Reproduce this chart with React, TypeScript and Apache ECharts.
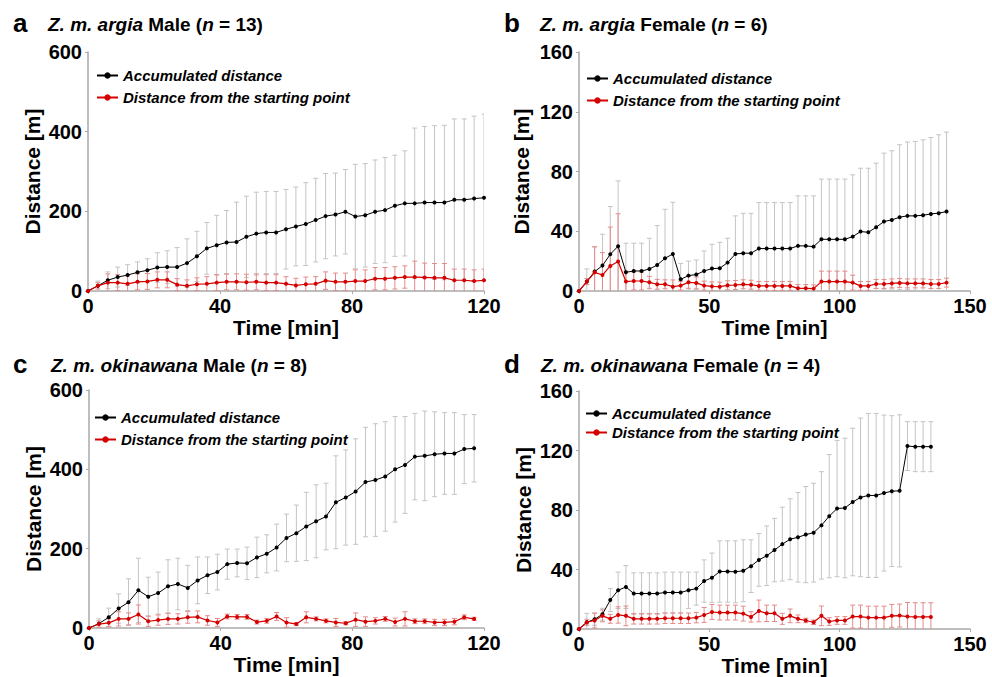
import React, { useEffect, useRef } from "react";
import * as echarts from "echarts";

// ---------- data ----------
const timeA = [0,3,6,9,12,15,18,21,24,27,30,33,36,39,42,45,48,51,54,57,60,63,66,69,72,75,78,81,84,87,90,93,96,99,102,105,108,111,114,117,120];
const accA = [0,13,27,35,40,47,52,59,60,60,70,87,107,115,122,123,136,144,147,147,155,162,168,178,188,192,199,187,190,199,203,214,220,220,222,222,222,229,229,232,234];
const accSdA = [0,12,21,25,26,26,29,37,41,49,61,63,65,75,80,100,102,104,103,103,100,99,104,105,107,104,106,131,130,130,132,127,132,189,191,193,194,203,203,207,210];
const distA = [0,13,21,21,18,23,24,28,28,16,13,17,18,21,23,23,22,23,21,21,18,14,17,18,26,23,23,25,25,31,31,33,35,35,34,33,33,27,27,25,27];
const distSdA = [0,8,22,20,20,20,20,20,20,15,15,16,18,20,20,20,20,20,20,20,18,18,18,18,22,22,22,28,28,28,28,28,28,40,36,36,36,28,28,28,28];

const timeB = [0,3,6,9,12,15,18,21,24,27,30,33,36,39,42,45,48,51,54,57,60,63,66,69,72,75,78,81,84,87,90,93,96,99,102,105,108,111,114,117,120,123,126,129,132,135,138,141];
const accB = [0,6.3,13,17,24.6,30,12.5,13.4,13.4,14.7,17.4,21.9,24.8,7.8,10.3,11,13.4,15,15.2,19,24.8,25.3,25.3,28.4,28.4,28.4,28.4,28.4,30.2,30.2,29.7,34.6,34.6,34.6,34.6,36.4,39.8,39.3,42.7,46.5,47.6,49.4,50.3,50.3,50.7,51.6,52.1,53.2];
const accSdB = [0,8.5,16.7,21,32,43.7,19.5,18.6,18.6,20.6,26.4,32.8,34.6,10.7,9.7,9.8,13.4,16.3,17.4,16.3,25.5,26.7,26.7,30.8,30.8,30.8,30.8,30.8,33.5,33.5,34,40.3,40.3,40.3,40.3,41.4,42.4,42.9,42.9,45.8,46.3,48.5,49.4,49.8,50.5,51.2,52.5,53.2];
const distB = [0,6.3,12.5,10.7,16.8,19.7,6.3,6.7,6.7,5.8,4.5,4.5,2.9,3.6,5.8,5.4,3.6,3.1,2.9,3.8,4,4.5,4.2,3.4,3.4,3.4,3.4,3.4,1.8,1.8,1.6,6.3,6.3,6.3,6.3,5.6,3.4,3.4,4.7,4.7,5.1,5.4,5.1,5.1,5.1,4.7,4.7,5.6];
const distSdB = [0,2,17,15,26,32,7,6,6,4,3.3,3,4.5,3,4,4,3,3,3,3,3,3,3,3,3,3,3,3,2.5,2.5,2.5,7,7,7,7,5,3,3,3,3,3,3,3,3,3,3,3,3];

const timeC = [0,3,6,9,12,15,18,21,24,27,30,33,36,39,42,45,48,51,54,57,60,63,66,69,72,75,78,81,84,87,90,93,96,99,102,105,108,111,114,117];
const accC = [0,11,27,49,65,95,79,88,105,111,101,120,133,141,161,164,163,178,187,203,227,239,256,269,281,317,329,344,368,373,382,400,411,432,434,438,440,440,451,453];
const accSdC = [0,12,23,37,59,81,49,53,67,65,57,59,46,45,38,35,41,51,48,59,60,71,86,92,84,117,120,133,138,142,138,133,122,109,113,107,103,103,87,85];
const distC = [0,10,13,23,23,34,17,20,23,23,27,28,19,14,29,28,28,15,18,29,14,10,27,23,18,14,12,21,16,18,23,15,23,17,17,14,14,16,27,23];
const distSdC = [0,8,10,18,15,24,13,13,14,13,15,15,12,10,6,6,6,5,6,10,12,4,14,5,5,10,4,17,12,8,6,10,18,6,6,8,8,8,6,4];

const timeD = [0,3,6,9,12,15,18,21,24,27,30,33,36,39,42,45,48,51,54,57,60,63,66,69,72,75,78,81,84,87,90,93,96,99,102,105,108,111,114,117,120,123,126,129,132,135];
const accD = [0,4.6,6.6,10,19.5,26.1,28.3,23.9,23.9,23.9,23.9,24.6,24.6,24.6,26.1,27.2,32.3,34.5,38.7,38.7,38.5,39.2,42.3,46.5,49.3,53.1,57.1,60.4,61.7,63.5,64.8,69.7,75.9,81,81.4,85.4,88.5,89.8,89.8,91.4,92.7,92.9,123,122.6,122.6,122.6];
const accSdD = [0,6,4,4,7.7,12.2,14.4,13.9,13.9,13.9,13.9,13.7,13.7,13.7,12.2,11.1,14.2,16.6,20.6,20.6,20.8,20.8,17.7,17.7,20,21.3,24.8,27.2,30.1,32.3,33.2,36.1,41.4,45.8,46.9,49.6,53.3,55.1,55.1,52.4,50.7,51.1,16.4,16.8,16.8,16.8];
const distD = [0,4.6,5.8,8.9,6.9,9.5,8.9,6.9,6.9,6.9,6.9,7.3,7.3,7.3,7.3,7.7,9.5,11.5,11.1,11.1,11.1,10.4,8.2,12.2,10.6,10.6,6.9,8.9,6.9,5.8,4.6,8.9,5.1,5.8,5.8,8.4,8.4,7.7,7.7,7.7,8.9,9.1,8.4,8.2,8.2,8.2];
const distSdD = [0,2,5,4,3,5.5,6.6,3.5,3.5,3.5,3.5,3.5,3.5,3.5,3.5,3.5,5,5,5,5,5,5,3.5,7.3,5.5,5.5,3.7,4.6,2.6,1.5,1.5,6.6,2.6,2.6,2.6,7.7,7.7,7.7,7.7,7.7,7.7,7.7,9.5,9.5,9.5,9.5];

const xTicksAC = [0, 40, 80, 120];
const yTicksAC = [0, 200, 400, 600];
const xTicksBD = [0, 50, 100, 150];
const yTicksBD = [0, 40, 80, 120, 160];

const seriesNames = ["Accumulated distance", "Distance from the starting point"];
const panelLetters = ["a", "b", "c", "d"];
const panelSubspecies = ["Z. m. argia", "Z. m. argia", "Z. m. okinawana", "Z. m. okinawana"];
const panelSex = ["Male", "Female", "Male", "Female"];
const panelN = [13, 6, 8, 4];

// ---------- layout ----------
const FONT = '"Liberation Sans", Arial, Helvetica, sans-serif';
const BLACK = "#000000";
const RED = "#d40000";
const GREY_BAR = "#c4c4c4";
const RED_BAR = "#e58a8a";
const AXIS = "#a9a9a9";

const panels = [
  { time: timeA, acc: accA, accSd: accSdA, dist: distA, distSd: distSdA, xTicks: xTicksAC, yTicks: yTicksAC,
    grid: { left: 88, top: 52, width: 396, height: 239 }, legend: { left: 96, top: 68, gap: 7 }, yGap: 45,
    letterPos: [13, 22.5], titlePos: [48, 24.5] },
  { time: timeB, acc: accB, accSd: accSdB, dist: distB, distSd: distSdB, xTicks: xTicksBD, yTicks: yTicksBD,
    grid: { left: 579, top: 52, width: 391, height: 239 }, legend: { left: 586, top: 71, gap: 7 }, yGap: 47,
    letterPos: [504, 22.5], titlePos: [540, 24.5] },
  { time: timeC, acc: accC, accSd: accSdC, dist: distC, distSd: distSdC, xTicks: xTicksAC, yTicks: yTicksAC,
    grid: { left: 89, top: 390, width: 395, height: 238 }, legend: { left: 94, top: 410, gap: 7 }, yGap: 45,
    letterPos: [13, 363.5], titlePos: [51, 365.5] },
  { time: timeD, acc: accD, accSd: accSdD, dist: distD, distSd: distSdD, xTicks: xTicksBD, yTicks: yTicksBD,
    grid: { left: 579, top: 391, width: 391, height: 241 }, legend: { left: 585, top: 406, gap: 4 }, yGap: 45,
    letterPos: [504, 363.5], titlePos: [541, 365.5] },
];

function errorSeries(name: string, time: number[], mean: number[], sd: number[], idx: number, color: string, z: number) {
  return {
    type: "custom",
    name,
    xAxisIndex: idx,
    yAxisIndex: idx,
    z,
    clip: true,
    silent: true,
    data: time.map((t, i) => [t, mean[i], sd[i]]),
    encode: { x: 0, y: 1 },
    renderItem: (params: any, api: any) => {
      const x = api.value(0);
      const m = api.value(1);
      const s = api.value(2);
      if (!s) return null;
      const lo = Math.max(m - s, 0);
      const p1 = api.coord([x, m + s]);
      const p2 = api.coord([x, lo]);
      const hw = 2.5;
      const style = { stroke: color, lineWidth: 1 };
      const children: any[] = [
        { type: "line", shape: { x1: p1[0], y1: p1[1], x2: p2[0], y2: p2[1] }, style },
        { type: "line", shape: { x1: p1[0] - hw, y1: p1[1], x2: p1[0] + hw, y2: p1[1] }, style },
      ];
      if (m - s > 0) {
        children.push({ type: "line", shape: { x1: p2[0] - hw, y1: p2[1], x2: p2[0] + hw, y2: p2[1] }, style });
      }
      return { type: "group", children };
    },
  };
}

function buildOption() {
  const grids: any[] = [];
  const xAxes: any[] = [];
  const yAxes: any[] = [];
  const legends: any[] = [];
  const series: any[] = [];
  const graphics: any[] = [];

  panels.forEach((p, idx) => {
    grids.push({ ...p.grid, containLabel: false });
    const xInt = p.xTicks[1] - p.xTicks[0];
    const yInt = p.yTicks[1] - p.yTicks[0];
    xAxes.push({
      type: "value",
      gridIndex: idx,
      min: p.xTicks[0],
      max: p.xTicks[p.xTicks.length - 1],
      interval: xInt,
      name: "Time [min]",
      nameLocation: "middle",
      nameGap: 21,
      nameTextStyle: { fontFamily: FONT, fontSize: 21, fontWeight: "bold", color: "#000" },
      axisLine: { show: true, lineStyle: { color: AXIS, width: 1.5 } },
      axisTick: { show: true, length: 3, lineStyle: { color: AXIS } },
      axisLabel: { fontFamily: FONT, fontSize: 20, fontWeight: "bold", color: "#000", margin: 5 },
      splitLine: { show: false },
    });
    yAxes.push({
      type: "value",
      gridIndex: idx,
      min: p.yTicks[0],
      max: p.yTicks[p.yTicks.length - 1],
      interval: yInt,
      name: "Distance [m]",
      nameLocation: "middle",
      nameGap: p.yGap,
      nameTextStyle: { fontFamily: FONT, fontSize: 21, fontWeight: "bold", color: "#000" },
      axisLine: { show: true, lineStyle: { color: AXIS, width: 1.5 } },
      axisTick: { show: true, length: 3, lineStyle: { color: AXIS } },
      axisLabel: { fontFamily: FONT, fontSize: 20, fontWeight: "bold", color: "#000", margin: 6 },
      splitLine: { show: false },
    });
    legends.push({
      data: seriesNames,
      orient: "vertical",
      left: p.legend.left,
      top: p.legend.top,
      padding: 0,
      itemWidth: 21,
      itemHeight: 8,
      itemGap: p.legend.gap,
      selectedMode: false,
      textStyle: { fontFamily: FONT, fontSize: 15, fontWeight: "bold", fontStyle: "italic", color: "#000" },
    });
    series.push(errorSeries("sdAcc" + idx, p.time, p.acc, p.accSd, idx, GREY_BAR, 1));
    series.push(errorSeries("sdDist" + idx, p.time, p.dist, p.distSd, idx, RED_BAR, 2));
    series.push({
      type: "line",
      name: seriesNames[0],
      xAxisIndex: idx,
      yAxisIndex: idx,
      z: 3,
      data: p.time.map((t, i) => [t, p.acc[i]]),
      symbol: "circle",
      symbolSize: 4,
      lineStyle: { color: BLACK, width: 1 },
      itemStyle: { color: BLACK },
    });
    series.push({
      type: "line",
      name: seriesNames[1],
      xAxisIndex: idx,
      yAxisIndex: idx,
      z: 4,
      data: p.time.map((t, i) => [t, p.dist[i]]),
      symbol: "circle",
      symbolSize: 4,
      lineStyle: { color: RED, width: 1.2 },
      itemStyle: { color: RED },
    });
    graphics.push({
      type: "text",
      left: p.letterPos[0],
      top: p.letterPos[1] - 13,
      style: { text: panelLetters[idx], fontFamily: FONT, fontSize: 26, fontWeight: "bold", fill: "#000" },
    });
    graphics.push({
      type: "text",
      left: p.titlePos[0],
      top: p.titlePos[1] - 10,
      style: {
        text: `{i|${panelSubspecies[idx]}} {b|${panelSex[idx]} (}{i|n}{b| = ${panelN[idx]})}`,
        fontFamily: FONT,
        fontSize: 19,
        fontWeight: "bold",
        fill: "#000",
        rich: {
          i: { fontFamily: FONT, fontSize: 19, fontWeight: "bold", fontStyle: "italic", fill: "#000" },
          b: { fontFamily: FONT, fontSize: 19, fontWeight: "bold", fill: "#000" },
        },
      },
    });
  });

  return {
    animation: false,
    backgroundColor: "#ffffff",
    grid: grids,
    xAxis: xAxes,
    yAxis: yAxes,
    legend: legends,
    series,
    graphic: graphics,
  };
}

export default function App() {
  const ref = useRef<HTMLDivElement>(null);
  useEffect(() => {
    if (!ref.current) return;
    const chart = echarts.init(ref.current, undefined, { renderer: "svg" });
    chart.setOption(buildOption() as any);
    return () => chart.dispose();
  }, []);
  return (
    <div
      ref={ref}
      style={{ position: "absolute", left: 0, top: 0, width: 992, height: 677, background: "#fff" }}
    />
  );
}
